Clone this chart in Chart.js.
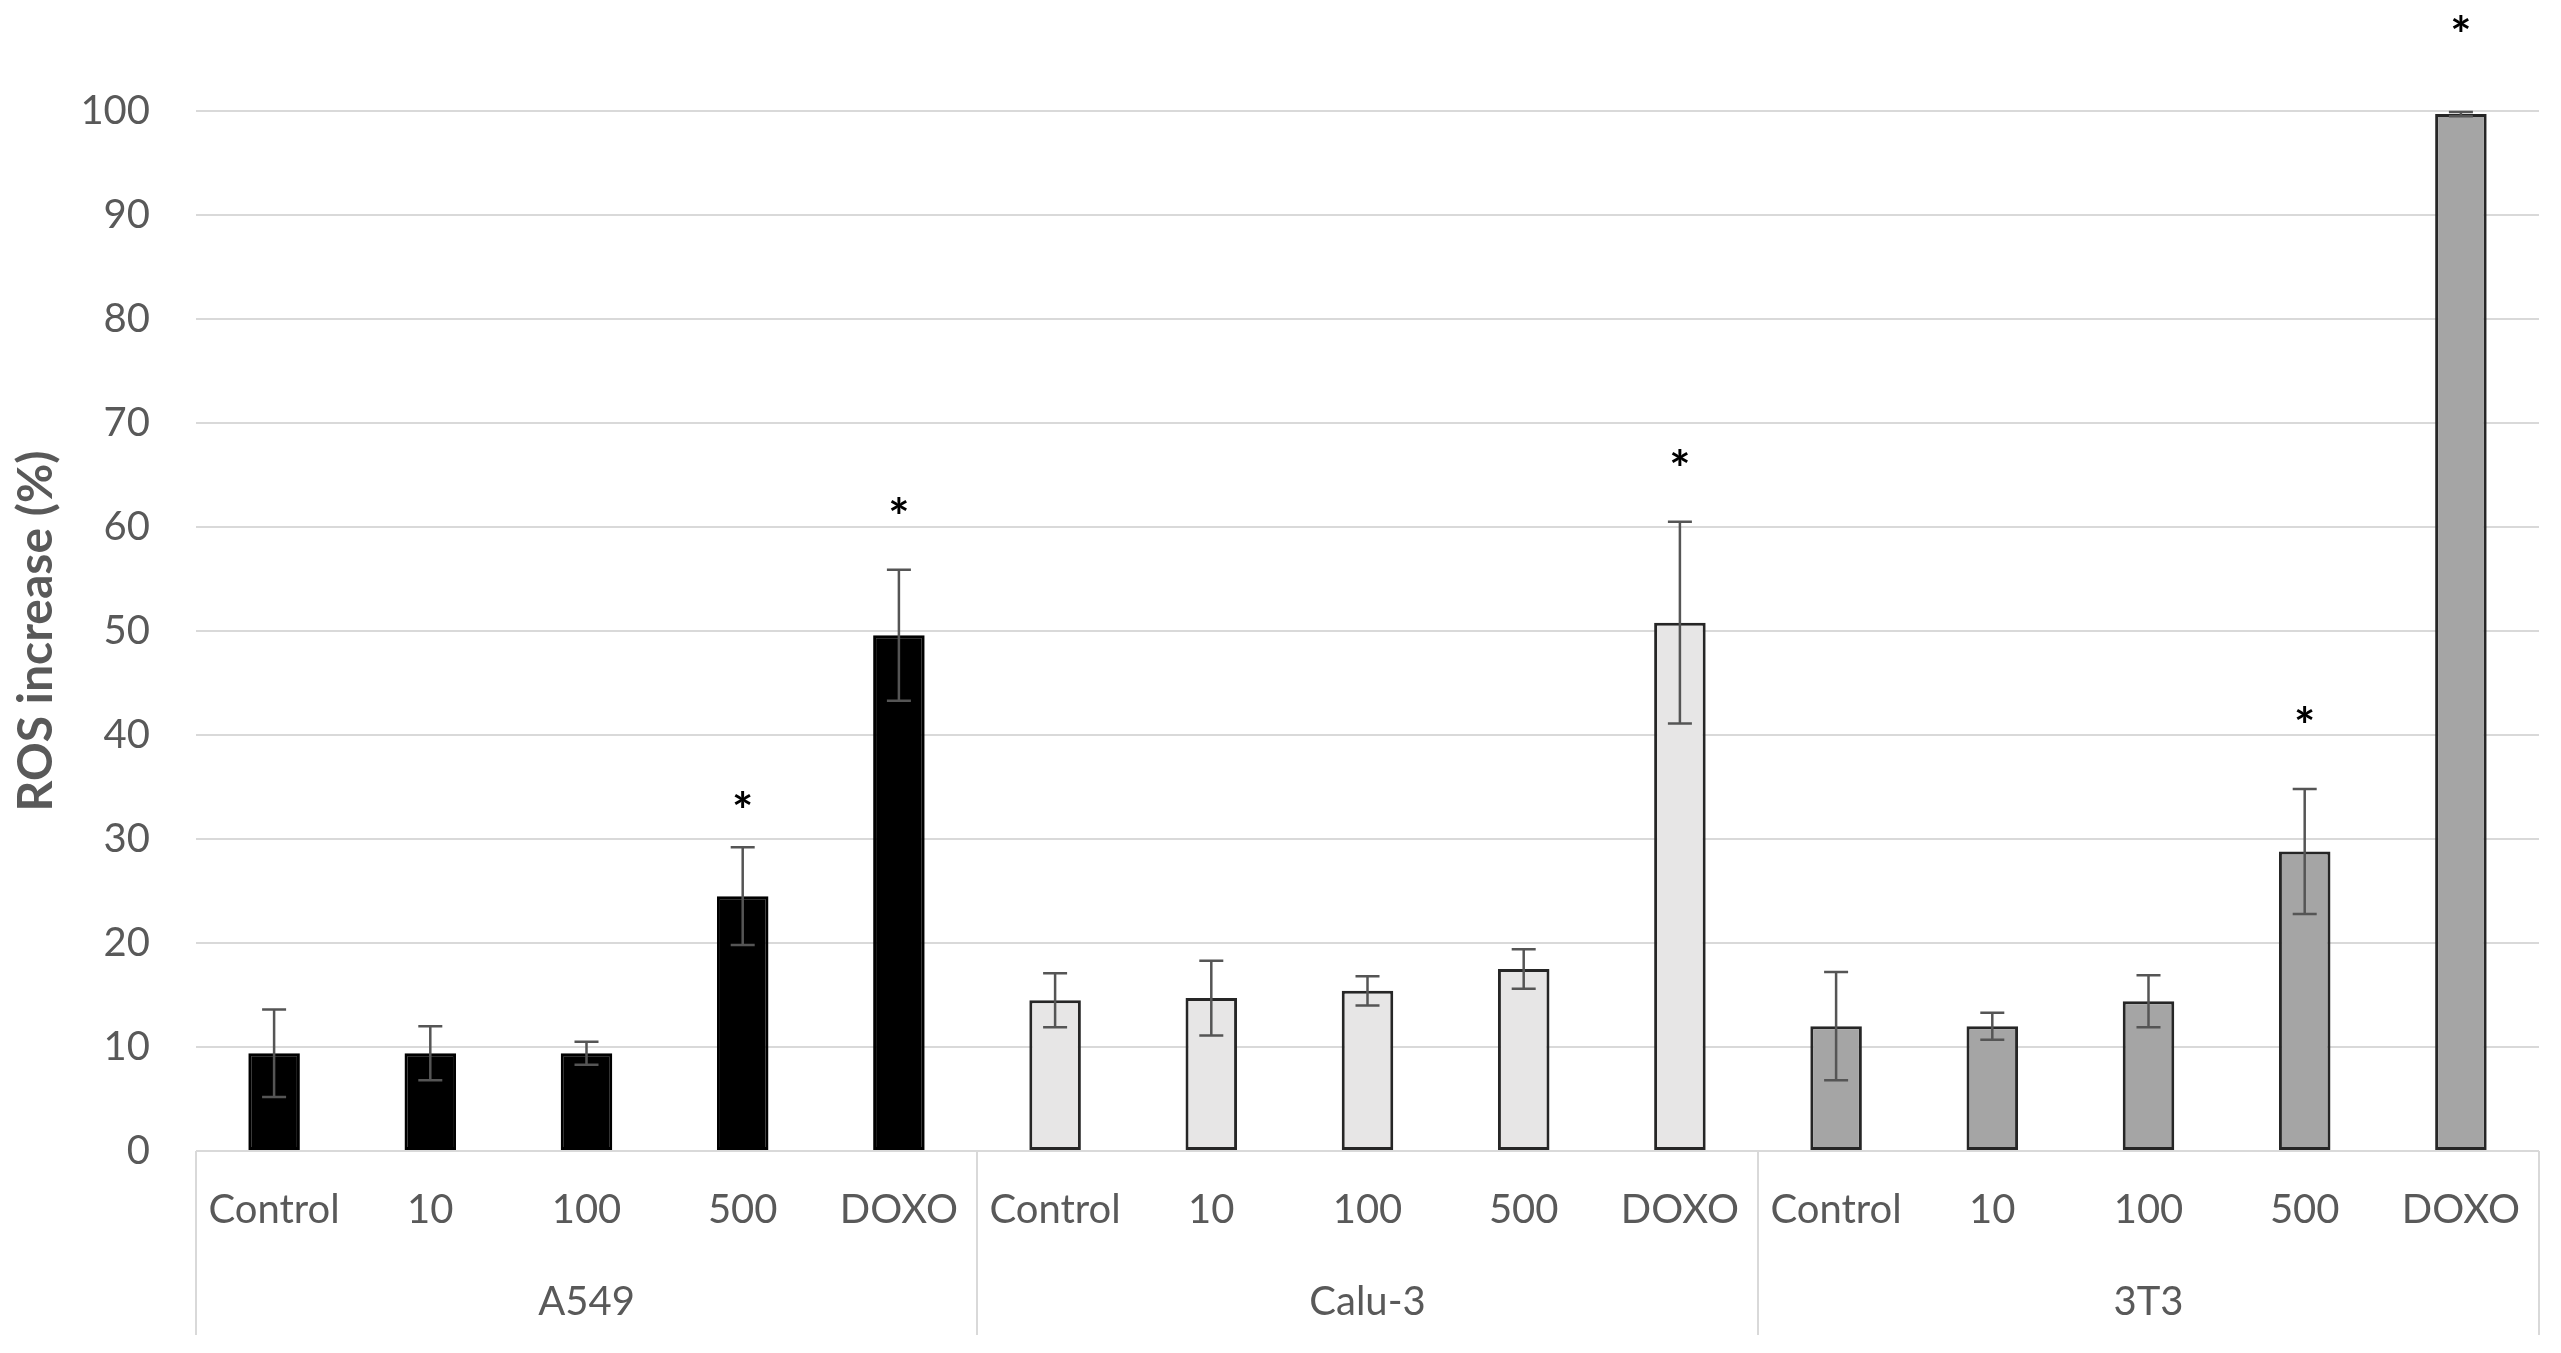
<!DOCTYPE html>
<html>
<head>
<meta charset="utf-8">
<script src="https://cdn.jsdelivr.net/npm/chart.js@4.4.1/dist/chart.umd.min.js"></script>
<style>
  html, body { margin: 0; padding: 0; background: #fff; }
  #wrap { width: 2561px; height: 1353px; position: relative; }
</style>
</head>
<body>
<div id="wrap"><canvas id="rosChart"></canvas></div>
<script>
// Categories
const doses = ['Control', '10', '100', '500', 'DOXO'];
const cellLines = ['A549', 'Calu-3', '3T3'];
const yTicks = [0, 10, 20, 30, 40, 50, 60, 70, 80, 90, 100];

// Mean ROS increase (%) per dose, one array per cell line
const a549Mean = [9.4, 9.4, 9.4, 24.5, 49.6];
const calu3Mean = [14.5, 14.7, 15.4, 17.5, 50.8];
const t3Mean = [12.0, 12.0, 14.4, 28.8, 99.7];

// Error bar half-widths
const a549Err = [4.2, 2.6, 1.1, 4.7, 6.3];
const calu3Err = [2.6, 3.6, 1.4, 1.9, 9.7];
const t3Err = [5.2, 1.3, 2.5, 6.0, 0.2];

// Level of the significance asterisk (null = none)
const a549Star = [null, null, null, 33.6, 61.8];
const calu3Star = [null, null, null, null, 66.4];
const t3Star = [null, null, null, 41.7, 108.2];

const fillColors = ['#000000', '#e7e6e6', '#a5a5a5'];
const lineColors = ['#000000', '#262626', '#262626'];

// flatten for the library
const labels = [];
const groupOf = [];
cellLines.forEach((c, g) => doses.forEach(d => { labels.push(d); groupOf.push(g); }));
const means = [].concat(a549Mean, calu3Mean, t3Mean);
const errors = [].concat(a549Err, calu3Err, t3Err);
const stars = [].concat(a549Star, calu3Star, t3Star);

const textGray = '#595959';
const gridGray = '#d9d9d9';

const annotate = {
    id: 'annotate',
    afterDatasetsDraw(chart) {
        const { ctx, scales: { y } } = chart;
        const bars = chart.getDatasetMeta(0).data;
        ctx.save();
        // error bars
        ctx.strokeStyle = '#555555';
        ctx.lineWidth = 2.5;
        bars.forEach((bar, i) => {
            const hi = y.getPixelForValue(means[i] + errors[i]);
            const lo = y.getPixelForValue(means[i] - errors[i]);
            ctx.beginPath();
            ctx.moveTo(bar.x, hi); ctx.lineTo(bar.x, lo);
            ctx.moveTo(bar.x - 12, hi); ctx.lineTo(bar.x + 12, hi);
            ctx.moveTo(bar.x - 12, lo); ctx.lineTo(bar.x + 12, lo);
            ctx.stroke();
        });
        // asterisks
        ctx.fillStyle = '#000';
        ctx.font = 'bold 50px Lato';
        ctx.textAlign = 'center';
        ctx.textBaseline = 'alphabetic';
        bars.forEach((bar, i) => {
            if (stars[i] === null) return;
            ctx.fillText('*', bar.x, y.getPixelForValue(stars[i]) + 27);
        });
        ctx.restore();
    },
    afterDraw(chart) {
        const { ctx, scales: { x }, chartArea } = chart;
        const catW = x.getPixelForValue(1) - x.getPixelForValue(0);
        const top = chartArea.bottom;
        ctx.save();
        ctx.strokeStyle = gridGray;
        ctx.lineWidth = 2;
        for (let g = 0; g <= cellLines.length; g++) {
            const px = g < cellLines.length
                ? x.getPixelForValue(g * doses.length) - catW / 2
                : x.getPixelForValue(labels.length - 1) + catW / 2;
            ctx.beginPath();
            ctx.moveTo(px, top);
            ctx.lineTo(px, top + 184);
            ctx.stroke();
        }
        ctx.fillStyle = textGray;
        ctx.font = '40px Lato';
        ctx.textAlign = 'center';
        ctx.textBaseline = 'middle';
        cellLines.forEach((c, g) => {
            const a = x.getPixelForValue(g * doses.length);
            const b = x.getPixelForValue(g * doses.length + doses.length - 1);
            ctx.fillText(c, (a + b) / 2, top + 151);
        });
        ctx.restore();
    }
};

new Chart(document.getElementById('rosChart'), {
    type: 'bar',
    data: {
        labels: labels,
        datasets: [{
            data: means,
            backgroundColor: groupOf.map(g => fillColors[g]),
            borderColor: groupOf.map(g => lineColors[g]),
            borderWidth: 3,
            borderSkipped: false,
            barPercentage: 0.33,
            categoryPercentage: 1.0
        }]
    },
    options: {
        responsive: true,
        maintainAspectRatio: false,
        animation: false,
        layout: { padding: { top: 111, right: 22, left: 0, bottom: 0 } },
        plugins: {
            legend: { display: false },
            tooltip: { enabled: false }
        },
        scales: {
            x: {
                grid: { display: false },
                border: { display: false },
                ticks: {
                    color: textGray,
                    font: { family: 'Lato', size: 40 },
                    padding: 27,
                    maxRotation: 0,
                    autoSkip: false
                },
                afterFit(scale) { scale.height = 202; }
            },
            y: {
                min: 0,
                max: 100,
                afterBuildTicks(scale) { scale.ticks = yTicks.map(v => ({ value: v })); },
                grid: { color: gridGray, lineWidth: 2, drawTicks: false },
                border: { display: false },
                ticks: {
                    color: textGray,
                    font: { family: 'Lato', size: 40 },
                    padding: 46
                },
                title: {
                    display: true,
                    text: 'ROS increase (%)',
                    color: textGray,
                    font: { family: 'Lato', size: 48, weight: 'bold' },
                    padding: { top: 8, bottom: 0 }
                },
                afterFit(scale) { scale.width = 196; }
            }
        }
    },
    plugins: [annotate]
});
</script>
</body>
</html>
